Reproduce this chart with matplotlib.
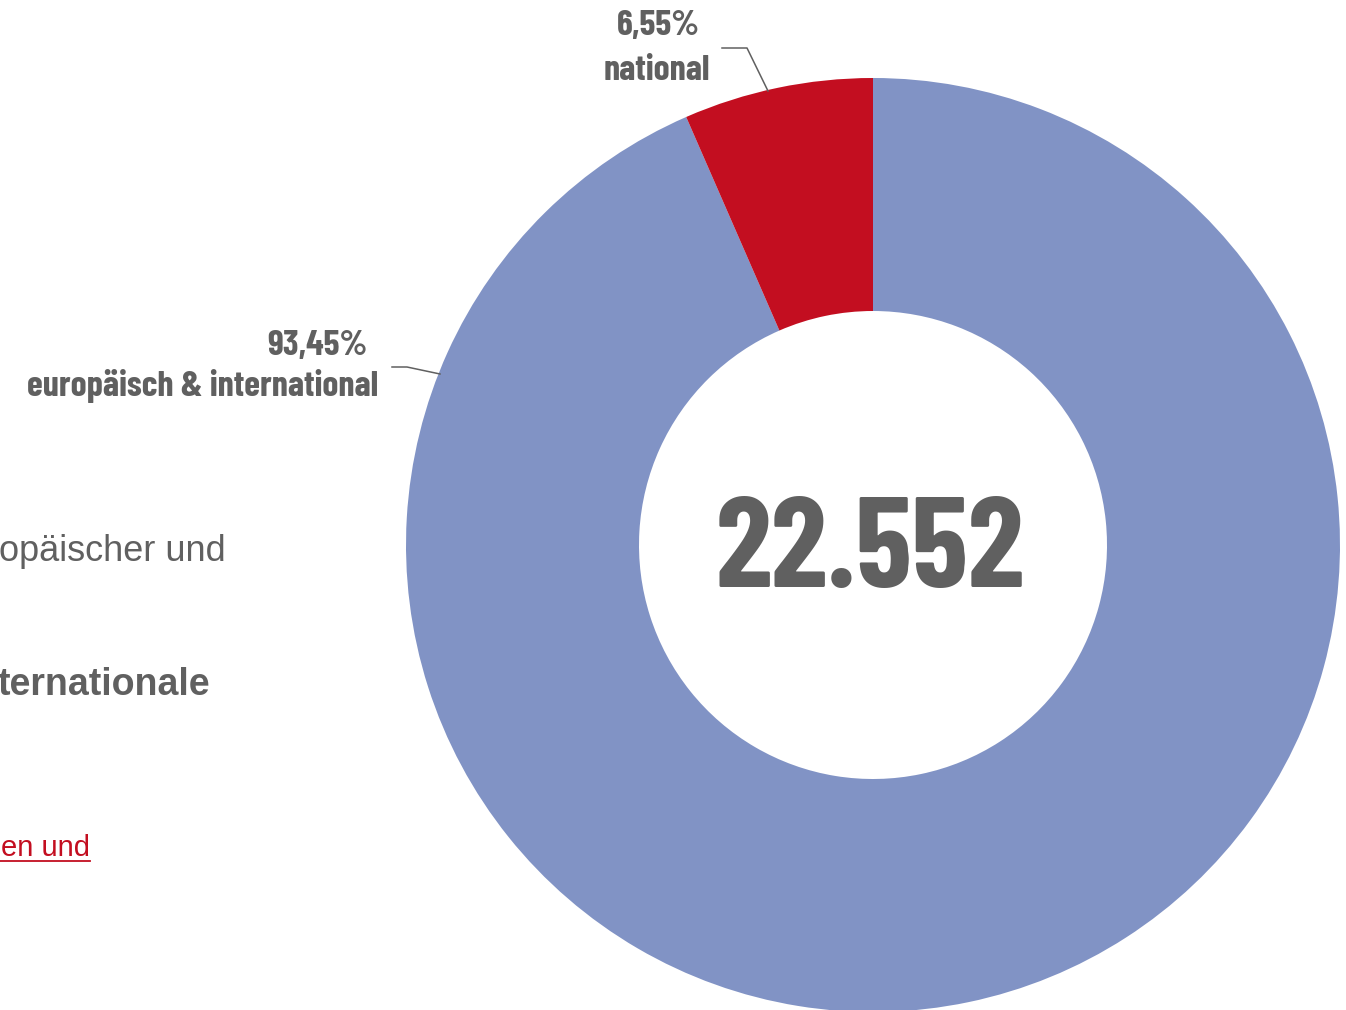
import matplotlib
matplotlib.use("Agg")
import matplotlib.pyplot as plt
from matplotlib.lines import Line2D

# Data
categories = ["europäisch & international", "national"]
shares = [93.45, 6.55]
share_labels = ["93,45%", "6,55%"]
total_label = "22.552"

colors = ["#8193C5", "#C30E20"]
gray = "#606060"
red = "#C30E20"
narrow = ["Barlow Condensed", "DejaVu Sans"]
sans = ["Liberation Sans", "DejaVu Sans"]

W, H = 1346, 1010
fig = plt.figure(figsize=(W / 100, H / 100), dpi=100)
ax = fig.add_axes([0, 0, 1, 1])


def Y(py):
    return H - py


cx, cy, r = 873, 545, 467
ax.pie(shares, colors=colors, startangle=90, counterclock=False,
       center=(cx, Y(cy)), radius=r, frame=True,
       wedgeprops=dict(width=233, linewidth=0))
ax.set_xlim(0, W)
ax.set_ylim(0, H)
ax.set_aspect("equal")
ax.axis("off")

# Centre total
ax.text(870, Y(587), total_label, ha="center", va="baseline",
        fontsize=92, fontweight="bold", color=gray, family=narrow)

# Segment labels
lab = dict(fontsize=26, fontweight="bold", color=gray, family=narrow,
           va="baseline", ha="right")
ax.text(700, Y(35), share_labels[1], **lab)
ax.text(710, Y(80), categories[1], **lab)
ax.add_line(Line2D([722, 747, 768], [Y(48), Y(48), Y(91)],
                   color=gray, lw=1.1))

ax.text(368, Y(355), share_labels[0], **lab)
ax.text(378, Y(396), categories[0], **lab)
ax.add_line(Line2D([392, 407, 440], [Y(367), Y(367), Y(374)],
                   color=gray, lw=1.1))

# Side text
ax.text(226, Y(561), "opäischer und", ha="right", va="baseline",
        fontsize=26, color=gray, family=sans)
ax.text(210, Y(695), "ternationale", ha="right", va="baseline",
        fontsize=27, fontweight="bold", color=gray, family=sans)
ax.text(90, Y(856), "en und", ha="right", va="baseline",
        fontsize=21, color=red, family=sans)
ax.add_line(Line2D([0, 90], [Y(861), Y(861)], color=red, lw=1.3))

fig.savefig("out.png", dpi=100)
